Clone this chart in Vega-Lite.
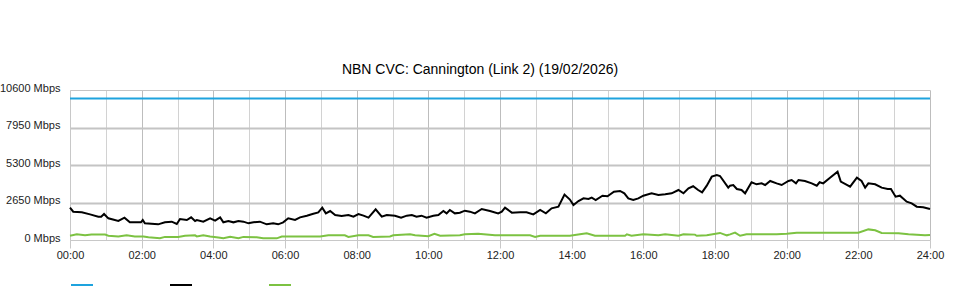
{
  "$schema": "https://vega.github.io/schema/vega-lite/v6.json",
  "width": 860,
  "height": 150,
  "autosize": {"type": "none"},
  "padding": {"left": 70, "top": 90, "right": 30, "bottom": 60},
  "background": "white",
  "title": {"text": "NBN CVC: Cannington (Link 2) (19/02/2026)", "fontSize": 14, "fontWeight": "normal", "font": "Liberation Sans", "color": "#000000", "anchor": "middle", "offset": 5, "dx": -20},
  "config": {"view": {"stroke": null}, "font": "Liberation Sans"},
  "data": {"values": [
    {"t": 0, "v": 10000, "s": "capacity"}, {"t": 24, "v": 10000, "s": "capacity"},
    {"t": 0.00, "v": 2283, "s": "in"}, {"t": 0.09, "v": 2000, "s": "in"}, {"t": 0.33, "v": 1955, "s": "in"}, {"t": 0.56, "v": 1813, "s": "in"}, {"t": 0.79, "v": 1649, "s": "in"}, {"t": 0.87, "v": 1650, "s": "in"}, {"t": 0.95, "v": 1837, "s": "in"}, {"t": 1.07, "v": 1531, "s": "in"}, {"t": 1.35, "v": 1343, "s": "in"}, {"t": 1.52, "v": 1578, "s": "in"}, {"t": 1.67, "v": 1248, "s": "in"}, {"t": 1.98, "v": 1248, "s": "in"}, {"t": 2.03, "v": 1413, "s": "in"}, {"t": 2.09, "v": 1178, "s": "in"}, {"t": 2.46, "v": 1107, "s": "in"}, {"t": 2.65, "v": 1248, "s": "in"}, {"t": 2.84, "v": 1295, "s": "in"}, {"t": 2.98, "v": 1130, "s": "in"}, {"t": 3.07, "v": 1484, "s": "in"}, {"t": 3.26, "v": 1413, "s": "in"}, {"t": 3.38, "v": 1601, "s": "in"}, {"t": 3.49, "v": 1343, "s": "in"}, {"t": 3.54, "v": 1413, "s": "in"}, {"t": 3.72, "v": 1295, "s": "in"}, {"t": 3.91, "v": 1531, "s": "in"}, {"t": 4.05, "v": 1366, "s": "in"}, {"t": 4.19, "v": 1601, "s": "in"}, {"t": 4.28, "v": 1248, "s": "in"}, {"t": 4.42, "v": 1343, "s": "in"}, {"t": 4.56, "v": 1248, "s": "in"}, {"t": 4.70, "v": 1343, "s": "in"}, {"t": 4.84, "v": 1295, "s": "in"}, {"t": 4.98, "v": 1178, "s": "in"}, {"t": 5.12, "v": 1248, "s": "in"}, {"t": 5.30, "v": 1295, "s": "in"}, {"t": 5.49, "v": 1107, "s": "in"}, {"t": 5.67, "v": 1178, "s": "in"}, {"t": 5.81, "v": 1107, "s": "in"}, {"t": 5.95, "v": 1248, "s": "in"}, {"t": 6.09, "v": 1531, "s": "in"}, {"t": 6.28, "v": 1413, "s": "in"}, {"t": 6.42, "v": 1601, "s": "in"}, {"t": 6.61, "v": 1719, "s": "in"}, {"t": 6.79, "v": 1860, "s": "in"}, {"t": 6.93, "v": 1950, "s": "in"}, {"t": 7.04, "v": 2283, "s": "in"}, {"t": 7.14, "v": 1884, "s": "in"}, {"t": 7.26, "v": 2049, "s": "in"}, {"t": 7.40, "v": 1767, "s": "in"}, {"t": 7.58, "v": 1696, "s": "in"}, {"t": 7.77, "v": 1767, "s": "in"}, {"t": 7.91, "v": 1649, "s": "in"}, {"t": 8.05, "v": 1837, "s": "in"}, {"t": 8.19, "v": 1719, "s": "in"}, {"t": 8.33, "v": 1578, "s": "in"}, {"t": 8.53, "v": 2167, "s": "in"}, {"t": 8.70, "v": 1649, "s": "in"}, {"t": 8.84, "v": 1767, "s": "in"}, {"t": 9.07, "v": 1719, "s": "in"}, {"t": 9.24, "v": 1578, "s": "in"}, {"t": 9.40, "v": 1719, "s": "in"}, {"t": 9.54, "v": 1767, "s": "in"}, {"t": 9.67, "v": 1649, "s": "in"}, {"t": 9.81, "v": 1719, "s": "in"}, {"t": 9.95, "v": 1578, "s": "in"}, {"t": 10.14, "v": 1719, "s": "in"}, {"t": 10.28, "v": 1767, "s": "in"}, {"t": 10.42, "v": 2049, "s": "in"}, {"t": 10.51, "v": 1884, "s": "in"}, {"t": 10.60, "v": 2120, "s": "in"}, {"t": 10.74, "v": 1884, "s": "in"}, {"t": 10.88, "v": 1931, "s": "in"}, {"t": 11.02, "v": 2073, "s": "in"}, {"t": 11.16, "v": 2002, "s": "in"}, {"t": 11.30, "v": 1884, "s": "in"}, {"t": 11.49, "v": 2191, "s": "in"}, {"t": 11.72, "v": 2049, "s": "in"}, {"t": 11.95, "v": 1884, "s": "in"}, {"t": 12.05, "v": 2002, "s": "in"}, {"t": 12.14, "v": 2283, "s": "in"}, {"t": 12.33, "v": 1931, "s": "in"}, {"t": 12.56, "v": 1955, "s": "in"}, {"t": 12.74, "v": 1955, "s": "in"}, {"t": 12.93, "v": 1813, "s": "in"}, {"t": 13.12, "v": 2120, "s": "in"}, {"t": 13.28, "v": 1884, "s": "in"}, {"t": 13.44, "v": 2238, "s": "in"}, {"t": 13.63, "v": 2356, "s": "in"}, {"t": 13.80, "v": 3210, "s": "in"}, {"t": 13.95, "v": 2860, "s": "in"}, {"t": 14.05, "v": 2473, "s": "in"}, {"t": 14.19, "v": 2756, "s": "in"}, {"t": 14.33, "v": 2945, "s": "in"}, {"t": 14.47, "v": 2897, "s": "in"}, {"t": 14.56, "v": 2992, "s": "in"}, {"t": 14.67, "v": 2827, "s": "in"}, {"t": 14.86, "v": 3133, "s": "in"}, {"t": 15.00, "v": 3086, "s": "in"}, {"t": 15.18, "v": 3415, "s": "in"}, {"t": 15.35, "v": 3463, "s": "in"}, {"t": 15.47, "v": 3298, "s": "in"}, {"t": 15.58, "v": 2945, "s": "in"}, {"t": 15.72, "v": 2827, "s": "in"}, {"t": 15.86, "v": 2945, "s": "in"}, {"t": 16.00, "v": 3133, "s": "in"}, {"t": 16.23, "v": 3298, "s": "in"}, {"t": 16.42, "v": 3180, "s": "in"}, {"t": 16.61, "v": 3227, "s": "in"}, {"t": 16.79, "v": 3298, "s": "in"}, {"t": 16.98, "v": 3533, "s": "in"}, {"t": 17.12, "v": 3298, "s": "in"}, {"t": 17.26, "v": 3650, "s": "in"}, {"t": 17.39, "v": 3800, "s": "in"}, {"t": 17.53, "v": 3533, "s": "in"}, {"t": 17.64, "v": 3368, "s": "in"}, {"t": 17.77, "v": 3840, "s": "in"}, {"t": 17.91, "v": 4475, "s": "in"}, {"t": 18.05, "v": 4593, "s": "in"}, {"t": 18.14, "v": 4522, "s": "in"}, {"t": 18.37, "v": 3698, "s": "in"}, {"t": 18.42, "v": 3840, "s": "in"}, {"t": 18.51, "v": 3887, "s": "in"}, {"t": 18.61, "v": 3604, "s": "in"}, {"t": 18.74, "v": 3533, "s": "in"}, {"t": 18.84, "v": 3298, "s": "in"}, {"t": 19.02, "v": 4075, "s": "in"}, {"t": 19.16, "v": 3934, "s": "in"}, {"t": 19.30, "v": 4004, "s": "in"}, {"t": 19.40, "v": 3887, "s": "in"}, {"t": 19.54, "v": 4169, "s": "in"}, {"t": 19.72, "v": 4004, "s": "in"}, {"t": 19.86, "v": 3887, "s": "in"}, {"t": 20.05, "v": 4169, "s": "in"}, {"t": 20.14, "v": 4240, "s": "in"}, {"t": 20.26, "v": 4004, "s": "in"}, {"t": 20.33, "v": 4240, "s": "in"}, {"t": 20.51, "v": 4169, "s": "in"}, {"t": 20.70, "v": 4004, "s": "in"}, {"t": 20.84, "v": 3840, "s": "in"}, {"t": 20.92, "v": 4080, "s": "in"}, {"t": 21.02, "v": 4004, "s": "in"}, {"t": 21.21, "v": 4405, "s": "in"}, {"t": 21.42, "v": 4829, "s": "in"}, {"t": 21.51, "v": 4122, "s": "in"}, {"t": 21.68, "v": 3887, "s": "in"}, {"t": 21.77, "v": 3769, "s": "in"}, {"t": 21.96, "v": 4405, "s": "in"}, {"t": 22.09, "v": 4169, "s": "in"}, {"t": 22.19, "v": 3698, "s": "in"}, {"t": 22.28, "v": 4004, "s": "in"}, {"t": 22.47, "v": 3934, "s": "in"}, {"t": 22.65, "v": 3698, "s": "in"}, {"t": 22.82, "v": 3604, "s": "in"}, {"t": 22.91, "v": 3604, "s": "in"}, {"t": 23.04, "v": 3062, "s": "in"}, {"t": 23.16, "v": 3133, "s": "in"}, {"t": 23.35, "v": 2709, "s": "in"}, {"t": 23.49, "v": 2591, "s": "in"}, {"t": 23.63, "v": 2356, "s": "in"}, {"t": 23.81, "v": 2309, "s": "in"}, {"t": 24.00, "v": 2191, "s": "in"},
    {"t": 0.00, "v": 300, "s": "out"}, {"t": 0.19, "v": 400, "s": "out"}, {"t": 0.42, "v": 330, "s": "out"}, {"t": 0.60, "v": 380, "s": "out"}, {"t": 0.98, "v": 380, "s": "out"}, {"t": 1.07, "v": 300, "s": "out"}, {"t": 1.35, "v": 250, "s": "out"}, {"t": 1.58, "v": 330, "s": "out"}, {"t": 1.81, "v": 250, "s": "out"}, {"t": 2.05, "v": 250, "s": "out"}, {"t": 2.19, "v": 190, "s": "out"}, {"t": 2.51, "v": 118, "s": "out"}, {"t": 2.65, "v": 220, "s": "out"}, {"t": 3.02, "v": 220, "s": "out"}, {"t": 3.21, "v": 300, "s": "out"}, {"t": 3.49, "v": 330, "s": "out"}, {"t": 3.54, "v": 250, "s": "out"}, {"t": 3.72, "v": 330, "s": "out"}, {"t": 3.91, "v": 250, "s": "out"}, {"t": 4.14, "v": 170, "s": "out"}, {"t": 4.28, "v": 118, "s": "out"}, {"t": 4.47, "v": 220, "s": "out"}, {"t": 4.70, "v": 118, "s": "out"}, {"t": 4.84, "v": 220, "s": "out"}, {"t": 5.21, "v": 190, "s": "out"}, {"t": 5.39, "v": 118, "s": "out"}, {"t": 5.77, "v": 118, "s": "out"}, {"t": 5.91, "v": 250, "s": "out"}, {"t": 6.98, "v": 250, "s": "out"}, {"t": 7.21, "v": 330, "s": "out"}, {"t": 7.67, "v": 330, "s": "out"}, {"t": 7.77, "v": 220, "s": "out"}, {"t": 8.05, "v": 330, "s": "out"}, {"t": 8.33, "v": 330, "s": "out"}, {"t": 8.46, "v": 220, "s": "out"}, {"t": 8.93, "v": 250, "s": "out"}, {"t": 9.02, "v": 330, "s": "out"}, {"t": 9.49, "v": 400, "s": "out"}, {"t": 9.63, "v": 330, "s": "out"}, {"t": 10.00, "v": 270, "s": "out"}, {"t": 10.17, "v": 430, "s": "out"}, {"t": 10.33, "v": 300, "s": "out"}, {"t": 10.88, "v": 330, "s": "out"}, {"t": 11.02, "v": 400, "s": "out"}, {"t": 11.39, "v": 450, "s": "out"}, {"t": 11.86, "v": 330, "s": "out"}, {"t": 12.84, "v": 330, "s": "out"}, {"t": 12.98, "v": 220, "s": "out"}, {"t": 13.12, "v": 300, "s": "out"}, {"t": 13.95, "v": 300, "s": "out"}, {"t": 14.23, "v": 400, "s": "out"}, {"t": 14.42, "v": 470, "s": "out"}, {"t": 14.65, "v": 300, "s": "out"}, {"t": 15.49, "v": 300, "s": "out"}, {"t": 15.54, "v": 400, "s": "out"}, {"t": 15.67, "v": 300, "s": "out"}, {"t": 16.00, "v": 400, "s": "out"}, {"t": 16.42, "v": 330, "s": "out"}, {"t": 16.61, "v": 400, "s": "out"}, {"t": 16.98, "v": 300, "s": "out"}, {"t": 17.12, "v": 400, "s": "out"}, {"t": 17.44, "v": 380, "s": "out"}, {"t": 17.49, "v": 300, "s": "out"}, {"t": 17.77, "v": 330, "s": "out"}, {"t": 18.14, "v": 500, "s": "out"}, {"t": 18.33, "v": 330, "s": "out"}, {"t": 18.42, "v": 400, "s": "out"}, {"t": 18.56, "v": 520, "s": "out"}, {"t": 18.70, "v": 300, "s": "out"}, {"t": 18.88, "v": 400, "s": "out"}, {"t": 19.72, "v": 400, "s": "out"}, {"t": 20.00, "v": 450, "s": "out"}, {"t": 20.28, "v": 520, "s": "out"}, {"t": 20.93, "v": 520, "s": "out"}, {"t": 22.00, "v": 520, "s": "out"}, {"t": 22.28, "v": 750, "s": "out"}, {"t": 22.47, "v": 690, "s": "out"}, {"t": 22.65, "v": 500, "s": "out"}, {"t": 23.12, "v": 470, "s": "out"}, {"t": 23.40, "v": 400, "s": "out"}, {"t": 23.86, "v": 330, "s": "out"}, {"t": 24.00, "v": 350, "s": "out"}
  ]},
  "mark": {"type": "line", "strokeWidth": 2, "interpolate": "linear"},
  "encoding": {
    "x": {
      "field": "t", "type": "quantitative",
      "scale": {"domain": [0, 24], "nice": false, "zero": false},
      "axis": {
        "title": null,
        "values": [0,1,2,3,4,5,6,7,8,9,10,11,12,13,14,15,16,17,18,19,20,21,22,23,24],
        "labelExpr": "datum.value % 2 == 0 ? ((datum.value < 10 ? '0' : '') + datum.value + ':00') : ''",
        "labelFlush": false, "labelOverlap": false,
        "labelFontSize": 11, "labelColor": "#222222", "labelFont": "Liberation Sans", "labelPadding": 1,
        "tickSize": 8, "tickColor": "#c8c8c8",
        "tickOpacity": {"condition": {"test": "datum.value % 2 == 0", "value": 1}, "value": 0},
        "domainColor": "#c8c8c8",
        "grid": true,
        "gridColor": {"condition": {"test": "datum.value % 2 == 0", "value": "#bdbdbd"}, "value": "#d2d2d2"},
        "gridWidth": 1
      }
    },
    "y": {
      "field": "v", "type": "quantitative",
      "scale": {"domain": [0, 10600], "nice": false},
      "axis": {
        "title": null,
        "values": [0, 2650, 5300, 7950, 10600],
        "labelExpr": "datum.value + ' Mbps'",
        "labelFontSize": 11, "labelColor": "#222222", "labelFont": "Liberation Sans", "labelPadding": 10,
        "labelOffset": -2,
        "ticks": false, "domainColor": "#c8c8c8",
        "grid": true, "gridColor": "#c4c4c4",
        "gridWidth": {"condition": {"test": "datum.value == 10600 || datum.value == 0", "value": 1}, "value": 2}
      }
    },
    "color": {
      "field": "s", "type": "nominal",
      "scale": {"domain": ["capacity", "in", "out"], "range": ["#1ea3de", "#000000", "#7cc242"]},
      "legend": {
        "orient": "none", "legendX": 0, "legendY": 183, "direction": "horizontal", "columns": 3,
        "title": null, "labelExpr": "''", "symbolType": "stroke", "symbolSize": 484,
        "symbolStrokeWidth": 2, "labelOffset": 0, "columnPadding": 69
      }
    }
  }
}
